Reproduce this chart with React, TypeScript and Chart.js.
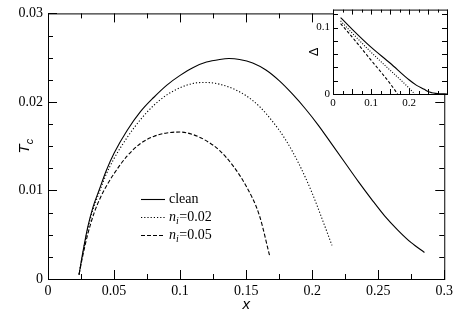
import React, { useEffect, useRef } from "react";
import { Chart, registerables } from "chart.js";

Chart.register(...registerables);

// ---- main plot data (x, Tc) ----
const cleanX = [0.0235, 0.026, 0.03, 0.034, 0.0386, 0.044, 0.05, 0.06, 0.07, 0.08, 0.09, 0.1, 0.11, 0.12, 0.13, 0.137, 0.145, 0.155, 0.165, 0.175, 0.185, 0.195, 0.205, 0.215, 0.225, 0.235, 0.245, 0.255, 0.265, 0.275, 0.285];
const cleanT = [0.0005, 0.0027, 0.0058, 0.0081, 0.0100, 0.0122, 0.0142, 0.0168, 0.0189, 0.0205, 0.0219, 0.0230, 0.0239, 0.0245, 0.0248, 0.0249, 0.0248, 0.0244, 0.0236, 0.0224, 0.0209, 0.0192, 0.0173, 0.0152, 0.0131, 0.0110, 0.0090, 0.0071, 0.0055, 0.0041, 0.0030];

const n02X = [0.0235, 0.026, 0.03, 0.034, 0.0386, 0.044, 0.05, 0.06, 0.07, 0.08, 0.09, 0.1, 0.11, 0.12, 0.13, 0.14, 0.15, 0.16, 0.17, 0.18, 0.19, 0.2, 0.207, 0.215];
const n02T = [0.0005, 0.0026, 0.0056, 0.0078, 0.0097, 0.0118, 0.0136, 0.0160, 0.0180, 0.0196, 0.0208, 0.0216, 0.0221, 0.0222, 0.0220, 0.0215, 0.0207, 0.0195, 0.0178, 0.0157, 0.0130, 0.0097, 0.0070, 0.0038];

const n05X = [0.0235, 0.026, 0.03, 0.035, 0.04, 0.045, 0.05, 0.06, 0.07, 0.08, 0.09, 0.1, 0.11, 0.12, 0.13, 0.14, 0.15, 0.16, 0.168];
const n05T = [0.0005, 0.0024, 0.0050, 0.0075, 0.0093, 0.0107, 0.0119, 0.0139, 0.0153, 0.0161, 0.0165, 0.0166, 0.0163, 0.0156, 0.0145, 0.0128, 0.0105, 0.0072, 0.0025];

// ---- inset data (x, Delta) ----
const dCleanX = [0.02, 0.05, 0.1, 0.15, 0.2, 0.22, 0.24, 0.25, 0.26, 0.27, 0.28, 0.3];
const dCleanY = [0.115, 0.0976, 0.0704, 0.0466, 0.0214, 0.013, 0.007, 0.0037, 0.002, 0.001, 0.0004, 0.0001];
const dN02X = [0.02, 0.05, 0.1, 0.15, 0.2, 0.215];
const dN02Y = [0.110, 0.092, 0.063, 0.036, 0.009, 0.0];
const dN05X = [0.02, 0.05, 0.1, 0.15, 0.17];
const dN05Y = [0.106, 0.086, 0.051, 0.016, 0.0];

// ---- tick values ----
const xMajor = [0, 0.05, 0.1, 0.15, 0.2, 0.25, 0.3];
const xMinor = [0.025, 0.075, 0.125, 0.175, 0.225, 0.275];
const yMajor = [0, 0.01, 0.02, 0.03];
const yMinor = [0.0025, 0.005, 0.0075, 0.0125, 0.015, 0.0175, 0.0225, 0.025, 0.0275];
const ixMajor = [0, 0.05, 0.1, 0.15, 0.2, 0.25, 0.3];
const ixMinor = [0.025, 0.075, 0.125, 0.175, 0.225, 0.275];
const iyMajor = [0, 0.02, 0.04, 0.06, 0.08, 0.1, 0.12];

const legendLabels = ["clean", "0.02", "0.05"];

const SERIF = "'Liberation Serif', 'DejaVu Serif', serif";
const SANS = "'Liberation Sans', 'DejaVu Sans', sans-serif";

Chart.defaults.font.family = SERIF;
Chart.defaults.color = "#000";

const pts = (xs: number[], ys: number[]) => xs.map((x, i) => ({ x, y: ys[i] }));
const fmt = (v: number) => String(+Number(v).toFixed(4));

function tickPlugin(xMaj: number[], xMin: number[], yMaj: number[], yMin: number[], majLen: number, minLen: number) {
  return {
    id: "inwardTicks",
    afterDatasetsDraw(chart: any) {
      const { ctx, chartArea: a, scales } = chart;
      const xs = scales.x, ys = scales.y;
      ctx.save();
      ctx.strokeStyle = "#000";
      ctx.lineWidth = 1;
      ctx.beginPath();
      const vx = (v: number, len: number) => {
        const p = Math.round(xs.getPixelForValue(v)) + 0.5;
        ctx.moveTo(p, a.bottom); ctx.lineTo(p, a.bottom - len);
        ctx.moveTo(p, a.top); ctx.lineTo(p, a.top + len);
      };
      const hy = (v: number, len: number) => {
        const p = Math.round(ys.getPixelForValue(v)) + 0.5;
        ctx.moveTo(a.left, p); ctx.lineTo(a.left + len, p);
        ctx.moveTo(a.right, p); ctx.lineTo(a.right - len, p);
      };
      xMaj.forEach((v) => vx(v, majLen));
      xMin.forEach((v) => vx(v, minLen));
      yMaj.forEach((v) => hy(v, majLen));
      yMin.forEach((v) => hy(v, minLen));
      ctx.stroke();
      ctx.strokeRect(a.left + 0.5, a.top + 0.5, a.right - a.left, a.bottom - a.top);
      ctx.restore();
    },
  };
}

const mainExtras = {
  id: "mainExtras",
  afterDraw(chart: any) {
    const { ctx, chartArea: a } = chart;
    ctx.save();
    // y title T_c
    ctx.translate(24, (a.top + a.bottom) / 2);
    ctx.rotate(-Math.PI / 2);
    ctx.fillStyle = "#000";
    ctx.textBaseline = "alphabetic";
    ctx.font = `italic 15px ${SANS}`;
    const wT = ctx.measureText("T").width;
    ctx.font = `italic 11px ${SANS}`;
    const wc = ctx.measureText("c").width;
    const start = -(wT + wc) / 2;
    ctx.font = `italic 15px ${SANS}`;
    ctx.fillText("T", start, 5);
    ctx.font = `italic 11px ${SANS}`;
    ctx.fillText("c", start + wT, 9);
    ctx.restore();

    // legend
    const lx0 = 141, lx1 = 165, tx = 169;
    const rows = [199, 217, 235];
    const dashes = [[], [1.2, 2], [4, 2]];
    ctx.save();
    ctx.strokeStyle = "#000";
    ctx.lineWidth = 1.1;
    rows.forEach((y, i) => {
      ctx.setLineDash(dashes[i]);
      ctx.beginPath();
      ctx.moveTo(lx0, y + 0.5);
      ctx.lineTo(lx1, y + 0.5);
      ctx.stroke();
    });
    ctx.setLineDash([]);
    ctx.fillStyle = "#000";
    ctx.textBaseline = "middle";
    ctx.font = `14px ${SERIF}`;
    ctx.fillText(legendLabels[0], tx, rows[0]);
    for (let i = 1; i < 3; i++) {
      let x = tx;
      ctx.font = `italic 14px ${SERIF}`;
      ctx.fillText("n", x, rows[i]);
      x += ctx.measureText("n").width;
      ctx.font = `italic 10px ${SERIF}`;
      ctx.fillText("i", x, rows[i] + 4);
      x += ctx.measureText("i").width + 0.5;
      ctx.font = `14px ${SERIF}`;
      ctx.fillText("=" + legendLabels[i], x, rows[i]);
    }
    ctx.restore();
  },
};

const insetExtras = {
  id: "insetExtras",
  beforeDraw(chart: any) {
    const { ctx, chartArea: a } = chart;
    ctx.save();
    ctx.fillStyle = "#fff";
    ctx.fillRect(a.left, a.top, a.right - a.left, a.bottom - a.top);
    ctx.restore();
  },
  afterDraw(chart: any) {
    const { ctx, chartArea: a } = chart;
    ctx.save();
    ctx.translate(14, (a.top + a.bottom) / 2);
    ctx.rotate(-Math.PI / 2);
    ctx.fillStyle = "#000";
    ctx.textAlign = "center";
    ctx.textBaseline = "middle";
    ctx.font = `13px ${SANS}`;
    ctx.fillText("Δ", 0, 0);
    ctx.restore();
  },
};

const lineDs = (data: any, dash: number[]) => ({
  data,
  borderColor: "#000",
  borderWidth: 1.1,
  borderDash: dash,
  pointRadius: 0,
  fill: false,
  cubicInterpolationMode: "monotone" as const,
});

export default function App() {
  const mainRef = useRef<HTMLCanvasElement>(null);
  const insetRef = useRef<HTMLCanvasElement>(null);

  useEffect(() => {
    document.body.style.margin = "0";
    const main = new Chart(mainRef.current!, {
      type: "line",
      data: {
        datasets: [
          lineDs(pts(cleanX, cleanT), []),
          lineDs(pts(n02X, n02T), [1.2, 2]),
          lineDs(pts(n05X, n05T), [4, 2]),
        ],
      },
      options: {
        responsive: false,
        animation: false,
        events: [],
        layout: { padding: { top: 6, right: 10, left: 0, bottom: 0 } },
        plugins: { legend: { display: false }, tooltip: { enabled: false } },
        scales: {
          x: {
            type: "linear",
            min: 0,
            max: 0.3,
            afterBuildTicks: (s: any) => { s.ticks = xMajor.map((v) => ({ value: v })); },
            afterFit: (s: any) => { s.height = 35; },
            grid: { display: false, drawTicks: false },
            border: { display: false },
            ticks: { callback: (v: any) => fmt(v), color: "#000", font: { family: SERIF, size: 14 }, padding: 4, maxRotation: 0, autoSkip: false },
            title: { display: true, text: "x", color: "#000", font: { family: SANS, size: 15, style: "italic" }, padding: { top: 0, bottom: 0 } },
          },
          y: {
            type: "linear",
            min: 0,
            max: 0.03,
            afterBuildTicks: (s: any) => { s.ticks = yMajor.map((v) => ({ value: v })); },
            afterFit: (s: any) => { s.width = 48; },
            grid: { display: false, drawTicks: false },
            border: { display: false },
            ticks: { callback: (v: any) => fmt(v), color: "#000", font: { family: SERIF, size: 14 }, padding: 5, autoSkip: false },
          },
        },
      },
      plugins: [tickPlugin(xMajor, xMinor, yMajor, yMinor, 9, 5), mainExtras],
    });

    const inset = new Chart(insetRef.current!, {
      type: "line",
      data: {
        datasets: [
          lineDs(pts(dCleanX, dCleanY), []),
          lineDs(pts(dN02X, dN02Y), [1, 1.6]),
          lineDs(pts(dN05X, dN05Y), [3, 2]),
        ],
      },
      options: {
        responsive: false,
        animation: false,
        events: [],
        layout: { padding: { top: 5, right: 10, left: 0, bottom: 0 } },
        plugins: { legend: { display: false }, tooltip: { enabled: false } },
        scales: {
          x: {
            type: "linear",
            min: 0,
            max: 0.3,
            afterBuildTicks: (s: any) => { s.ticks = [0, 0.1, 0.2].map((v) => ({ value: v })); },
            afterFit: (s: any) => { s.height = 21; },
            grid: { display: false, drawTicks: false },
            border: { display: false },
            ticks: { callback: (v: any) => fmt(v), color: "#000", font: { family: SERIF, size: 11 }, padding: 3, maxRotation: 0, autoSkip: false },
          },
          y: {
            type: "linear",
            min: 0,
            max: 0.127,
            afterBuildTicks: (s: any) => { s.ticks = [0, 0.1].map((v) => ({ value: v })); },
            afterFit: (s: any) => { s.width = 33; },
            grid: { display: false, drawTicks: false },
            border: { display: false },
            ticks: { callback: (v: any) => fmt(v), color: "#000", font: { family: SERIF, size: 11 }, padding: 3, autoSkip: false },
          },
        },
      },
      plugins: [tickPlugin(ixMajor, ixMinor, iyMajor, [], 5, 3), insetExtras],
    });

    return () => { main.destroy(); inset.destroy(); };
  }, []);

  return (
    <div style={{ position: "relative", width: 457, height: 314 }}>
      <canvas ref={mainRef} width={457} height={314} style={{ position: "absolute", left: 0, top: 0 }} />
      <canvas ref={insetRef} width={157} height={115} style={{ position: "absolute", left: 300, top: 0 }} />
    </div>
  );
}
